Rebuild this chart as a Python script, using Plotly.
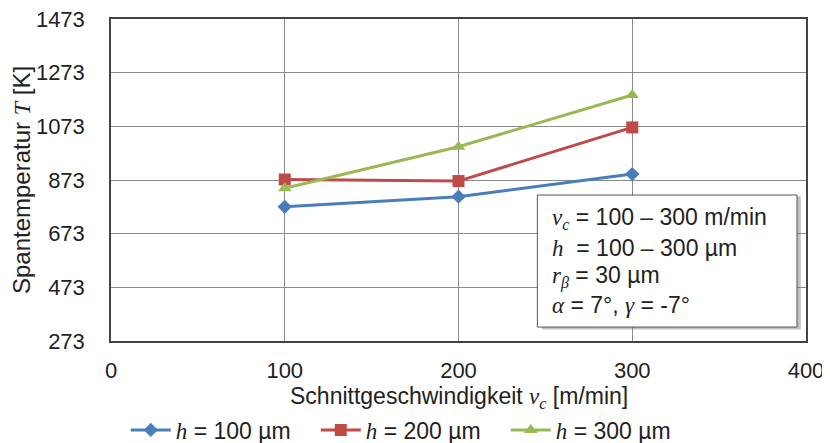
import plotly.graph_objects as go

v_c = [100, 200, 300]
T_h100 = [773, 811, 895]
T_h200 = [875, 869, 1069]
T_h300 = [842, 997, 1190]
series_names = ["h = 100 µm", "h = 200 µm", "h = 300 µm"]
y_ticks = [273, 473, 673, 873, 1073, 1273, 1473]
x_ticks = [0, 100, 200, 300, 400]

SER = "Liberation Serif"
def it(s):
    return f'<span style="font-family:{SER}"><i>{s}</i></span>'

fig = go.Figure()
styles = [("#4a7ebb", "diamond", 11), ("#be4b48", "square", 12), ("#98b954", "triangle-up", 12)]
for vals, name, (col, sym, sz) in zip([T_h100, T_h200, T_h300], series_names, styles):
    label = it("h") + name[1:]
    fig.add_trace(go.Scatter(x=v_c, y=vals, mode="lines+markers", name=label,
                             line=dict(color=col, width=3),
                             marker=dict(symbol=sym, size=sz, color=col)))

# info box with shadow
fig.add_shape(type="rect", xref="x", yref="y", x0=248, x1=397, y0=812, y1=316,
              fillcolor="rgba(120,120,120,0.45)", line=dict(width=0), layer="above")
fig.add_shape(type="rect", xref="x", yref="y", x0=245.4, x1=394.8, y0=817, y1=325,
              fillcolor="white", line=dict(color="#555555", width=1), layer="above")
lines = [
    it("v") + '<sub>' + it("c") + '</sub> = 100 – 300 m/min',
    it("h") + '  = 100 – 300 µm',
    it("r") + '<sub>' + it("β") + '</sub> = 30 µm',
    it("α") + ' = 7°, ' + it("γ") + ' = -7°',
]
ypos = [219, 248, 277, 305]
for t, yp in zip(lines, ypos):
    fig.add_annotation(text=t, xref="paper", yref="paper", x=(550 - 111) / 695,
                       y=1 - (yp - 19) / 322, xanchor="left", yanchor="middle",
                       showarrow=False, font=dict(size=23, color="#222"))

# x-axis title as annotation
fig.add_annotation(text="Schnittgeschwindigkeit " + it("v") + "<sub>" + it("c") + "</sub> [m/min]",
                   xref="paper", yref="paper", x=0.5, y=1 - (397 - 19) / 322,
                   xanchor="center", yanchor="middle", showarrow=False,
                   font=dict(size=23, color="#222"))

# page body has an 8px margin; figure offsets compensate for it
fig.update_layout(
    width=822, height=435,
    margin=dict(l=103, r=24, t=11, b=102),
    paper_bgcolor="white", plot_bgcolor="white",
    font=dict(family="Liberation Sans, Arial", size=23, color="#222"),
    showlegend=True,
    legend=dict(orientation="h", x=0.49, xref="container", xanchor="center",
                y=0.03, yref="container", yanchor="middle",
                font=dict(size=23), itemwidth=40, tracegroupgap=0,
                entrywidth=135, entrywidthmode="pixels"),
    xaxis=dict(range=[0, 400], tickvals=x_ticks, showgrid=True, gridcolor="#8a8a8a",
               gridwidth=1, zeroline=False, showline=True, linecolor="#444", linewidth=1.5,
               mirror=True, ticks="", ticklabelstandoff=9, automargin=False,
               ticklabeloverflow="allow", tickfont=dict(size=22)),
    yaxis=dict(range=[273, 1473], tickvals=y_ticks, showgrid=True, gridcolor="#8a8a8a",
               gridwidth=1, zeroline=False, showline=True, linecolor="#444", linewidth=1.5,
               mirror=True, ticks="", ticklabelstandoff=20, automargin=False,
               ticklabeloverflow="allow", tickfont=dict(size=22),
               title=dict(text="Spantemperatur " + it("T") + " [K]", font=dict(size=24), standoff=3)),
)

fig.write_html("out.html")
